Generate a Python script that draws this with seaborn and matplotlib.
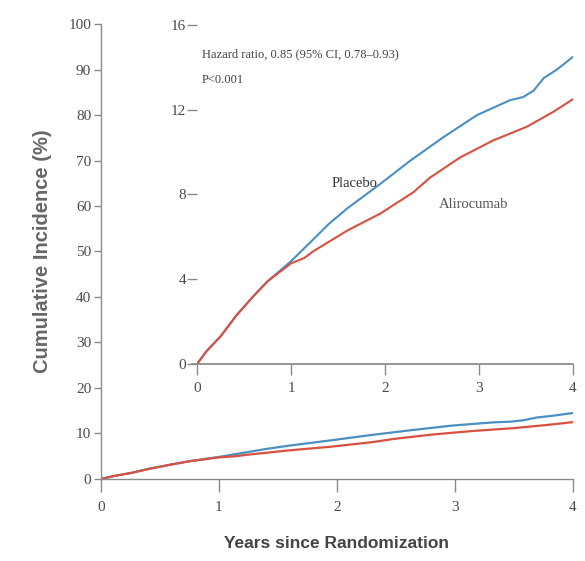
import matplotlib
matplotlib.use("Agg")
import matplotlib.pyplot as plt
import seaborn as sns
import pandas as pd

# Kaplan-Meier cumulative incidence of the primary end point (%)
placebo_years = [0, 0.1, 0.25, 0.42, 0.6, 0.75, 1.0, 1.23, 1.4, 1.6, 1.95,
                 2.27, 2.62, 2.98, 3.33, 3.47, 3.58, 3.69, 3.83, 4.0]
placebo_pct = [0, 0.6, 1.3, 2.3, 3.2, 3.9, 4.85, 5.85, 6.6, 7.35, 8.5,
               9.6, 10.7, 11.75, 12.45, 12.6, 12.9, 13.5, 13.9, 14.5]

aliro_years = [0, 0.1, 0.25, 0.42, 0.6, 0.75, 1.0, 1.14, 1.23, 1.6, 1.95,
               2.3, 2.48, 2.8, 3.15, 3.51, 3.79, 4.0]
aliro_pct = [0, 0.6, 1.3, 2.3, 3.2, 3.9, 4.75, 5.0, 5.3, 6.3, 7.1,
             8.1, 8.8, 9.75, 10.55, 11.2, 11.9, 12.5]

groups = ["Placebo", "Alirocumab"]
main_yticks = [0, 10, 20, 30, 40, 50, 60, 70, 80, 90, 100]
inset_yticks = [0, 4, 8, 12, 16]
xticks = [0, 1, 2, 3, 4]

df = pd.concat([
    pd.DataFrame({"year": placebo_years, "pct": placebo_pct, "group": groups[0]}),
    pd.DataFrame({"year": aliro_years, "pct": aliro_pct, "group": groups[1]}),
])

sns.set_theme(style="white")
palette = {"Placebo": "#4a8fc4", "Alirocumab": "#d8503f"}
axis_col = "#8a8a8a"
tick_col = "#4a4a4a"
serif = ["Liberation Serif", "DejaVu Serif"]
sans = ["Liberation Sans", "DejaVu Sans"]

fig = plt.figure(figsize=(5.85, 5.61), dpi=100)
ax = fig.add_axes([0.1726, 0.1462, 0.8069, 0.8110])

sns.lineplot(data=df, x="year", y="pct", hue="group", palette=palette,
             hue_order=groups, lw=1.6, legend=False, ax=ax, sort=False)
ax.set_xlim(0, 4)
ax.set_ylim(0, 100)
ax.set_xticks(xticks)
ax.set_yticks(main_yticks)
ax.set_xticklabels([str(t) for t in xticks], family=serif, fontsize=11, color=tick_col)
ax.set_yticklabels([str(t) for t in main_yticks], family=serif, fontsize=11, color=tick_col)
ax.tick_params(axis="x", bottom=True, direction="out", length=9, width=1,
               color=axis_col, pad=7)
ax.tick_params(axis="y", left=True, direction="out", length=5, width=1,
               color=axis_col, pad=2)
for side in ("top", "right"):
    ax.spines[side].set_visible(False)
for side in ("left", "bottom"):
    ax.spines[side].set_color(axis_col)
    ax.spines[side].set_linewidth(1.0)
ax.set_xlabel("Years since Randomization", fontsize=12.5, fontweight="bold",
              color="#444444", family=sans, labelpad=16)
ax.set_ylabel("Cumulative Incidence (%)", fontsize=14.5, fontweight="bold",
              color="#666666", family=sans, labelpad=12)

# Inset with an expanded y-axis
ins = fig.add_axes([0.3368, 0.3512, 0.6427, 0.6043])
sns.lineplot(data=df, x="year", y="pct", hue="group", palette=palette,
             hue_order=groups, lw=1.5, legend=False, ax=ins, sort=False)
ins.set_xlim(0, 4)
ins.set_ylim(0, 16)
ins.set_xticks(xticks)
ins.set_yticks(inset_yticks)
ins.set_xticklabels([str(t) for t in xticks], family=serif, fontsize=11, color=tick_col)
ins.set_yticklabels([str(t) for t in inset_yticks], family=serif, fontsize=11, color=tick_col)
ins.tick_params(axis="x", bottom=True, direction="out", length=8, width=1,
                color=axis_col, pad=5)
ins.tick_params(axis="y", left=True, direction="out", length=7, width=1,
                color=axis_col, pad=1)
ins.set_xlabel("")
ins.set_ylabel("")
ins.patch.set_alpha(0)
for side in ("top", "right", "left"):
    ins.spines[side].set_visible(False)
ins.spines["bottom"].set_color(axis_col)
ins.spines["bottom"].set_bounds(-0.05, 4)

ins.text(0.05, 14.6, "Hazard ratio, 0.85 (95% CI, 0.78\u20130.93)", family=serif,
         fontsize=9, color="#444444", va="center", ha="left")
ins.text(0.05, 13.4, "P<0.001", family=serif, fontsize=9, color="#444444",
         va="center", ha="left")
ins.text(1.68, 8.5, "Placebo", family=serif, fontsize=10.5, color="#333333",
         ha="center", va="center")
ins.text(2.94, 7.55, "Alirocumab", family=serif, fontsize=10.5, color="#555555",
         ha="center", va="center")

fig.savefig("out.png", dpi=100)
